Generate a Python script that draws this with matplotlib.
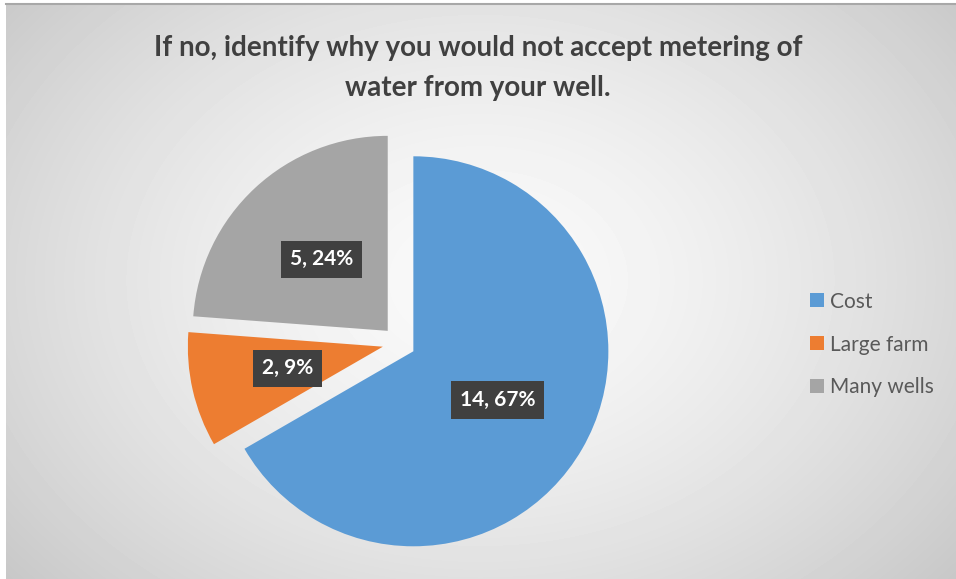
import matplotlib.pyplot as plt
import numpy as np

categories = ["Cost", "Large farm", "Many wells"]
counts = [14, 2, 5]
percents = [67, 9, 24]
colors = ["#5B9BD5", "#ED7D31", "#A5A5A5"]
title = "If no, identify why you would not accept metering of\nwater from your well."

plt.rcParams['font.family'] = ['Lato', 'DejaVu Sans']

fig = plt.figure(figsize=(9.56, 5.79), dpi=100)

# radial gray background, white strip on the left, gray line on top
bg = fig.add_axes([0, 0, 1, 1], zorder=0)
yy, xx = np.mgrid[0:579, 0:956]
d = np.sqrt(((xx - 480) / 560.0) ** 2 + ((yy - 280) / 420.0) ** 2)
shade = np.clip(0.98 - 0.17 * d ** 1.5, 0, 1)
shade[:, :6] = 1.0
shade[:3, :] = 1.0
bg.imshow(shade, cmap="gray", vmin=0, vmax=1, extent=[0, 956, 579, 0], aspect="auto")
bg.plot([6, 956], [3.5, 3.5], color="#a8a8a8", lw=1.5)
bg.set_xlim(0, 956)
bg.set_ylim(579, 0)
bg.axis("off")

# pie axes: centre near (399, 343) px, radius ~195 px
L = 1.15
s = 195 * L
ax = fig.add_axes([(399 - s) / 956, (579 - 343 - s) / 579, 2 * s / 956, 2 * s / 579], zorder=1)
ax.patch.set_alpha(0)

def fmt(pct, it=iter(range(len(counts)))):
    i = next(it)
    return f"{counts[i]}, {percents[i]}%"

wedges, texts, autotexts = ax.pie(
    counts, colors=colors, startangle=90, counterclock=False,
    explode=[0.085, 0.085, 0.085], autopct=fmt, pctdistance=0.5,
    wedgeprops=dict(linewidth=0),
    textprops=dict(color="white", fontsize=15, fontweight="bold"))
for t in autotexts:
    t.set_bbox(dict(boxstyle="square,pad=0.42", facecolor="#404040", edgecolor="none"))
ax.set_xlim(-L, L)
ax.set_ylim(-L, L)
ax.set_aspect("equal")

fig.text(0.5, 0.882, title, ha="center", va="center", fontsize=20, fontweight="bold",
         color="#404040", linespacing=1.65)

fig.legend(wedges, categories, loc="center left", bbox_to_anchor=(0.828, 0.405),
           frameon=False, fontsize=15, labelcolor="#595959", handlelength=0.65,
           handleheight=0.65, handletextpad=0.3, labelspacing=1.1)

fig.savefig("out.png", dpi=100)
